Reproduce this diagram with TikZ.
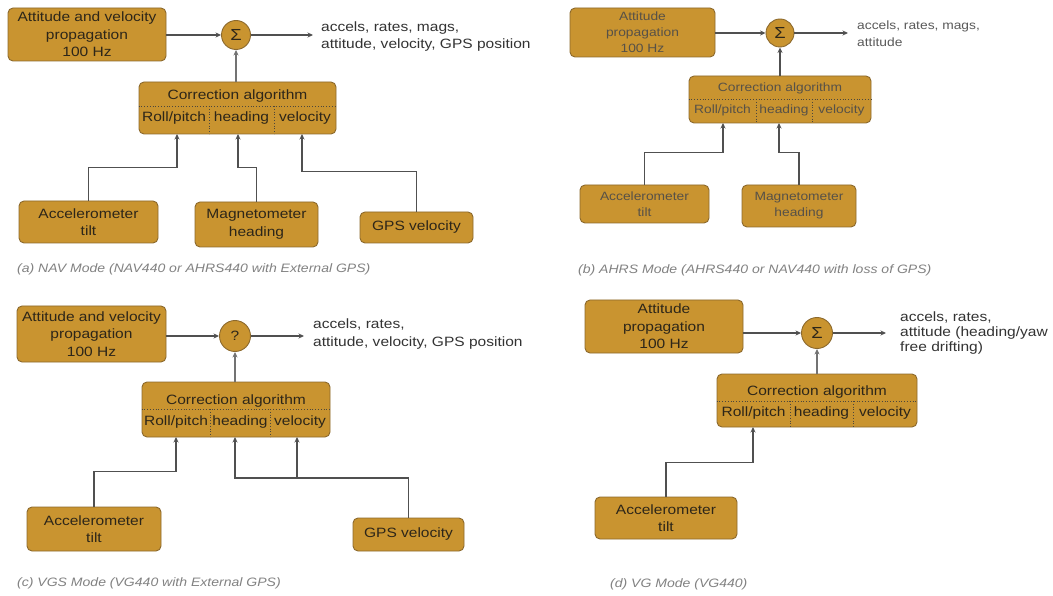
\documentclass[tikz,border=0pt]{standalone}
\usepackage{fontspec}
\setmainfont{Liberation Sans}[FakeStretch=1.15]
\usetikzlibrary{arrows.meta,calc}
\definecolor{gold}{RGB}{201,148,48}
\definecolor{goldedge}{RGB}{140,105,45}
\definecolor{ink}{RGB}{45,38,25}
\definecolor{wire}{RGB}{80,80,80}
\definecolor{wirelight}{RGB}{115,115,115}
\definecolor{capgray}{RGB}{130,130,130}
\tikzset{
  blk/.style={draw=goldedge, fill=gold, rounded corners=5pt, line width=0.9pt, text=ink,
    align=center, inner sep=0pt, font=\fontsize{13.5}{17.5}\selectfont},
  sumnode/.style={circle, draw=goldedge, fill=gold, line width=0.9pt, minimum size=29pt,
    inner sep=0pt, text=ink, font=\fontsize{16}{16}\selectfont},
  conn/.style={draw=wire, line width=1.8pt, -{Stealth[length=5.5pt,width=5pt]}},
  upconn/.style={draw=wirelight, line width=2.2pt, -{Stealth[length=5.5pt,width=5pt]}},
  outtxt/.style={anchor=west, align=left, text=black!80, inner sep=0pt},
  captxt/.style={anchor=west, inner sep=0pt, text=capgray, font=\fontsize{12.2}{14}\selectfont\itshape},
  lbl/.style={inner sep=0pt, text=ink, font=\fontsize{13.5}{16}\selectfont},
  lblb/.style={inner sep=0pt, text=ink!80, font=\fontsize{12}{15}\selectfont},
  bsmall/.style={font=\fontsize{12}{16}\selectfont, text=ink!80},
  sep/.style={draw=ink!85, dotted, line width=0.8pt},
}
\newcommand{\gbox}[7][]{%
  \node[blk, minimum width={(#5-#3)*1pt}, minimum height={(#6-#4)*1pt}, #1]
    (#2) at ({(#3+#5)/2},{(#4+#6)/2}) {#7};}
\begin{document}
\begin{tikzpicture}[x=1pt,y=-1pt]
\path[use as bounding box, fill=white] (0,0) rectangle (1053,596);

% ---------------- (a) NAV mode ----------------
\gbox{propA}{8}{8}{166}{61}{Attitude and velocity\\propagation\\100 Hz}
\node[sumnode] (sumA) at (236,35) {Σ};
\node[outtxt, font=\fontsize{13.5}{17}\selectfont] (outA) at (321,36.5) {accels, rates, mags,\\attitude, velocity, GPS position};
\draw[conn] (propA.east |- sumA.west) -- (sumA.west);
\draw[conn, shorten >=8pt] (sumA.east) -- (sumA.east -| outA.west);
\gbox{corrA}{139}{82}{336}{134}{}
\node[lbl] (corrAt) at (237.5,96) {Correction algorithm};
\draw[sep] (corrA.west |- 0,106) -- (corrA.east |- 0,106);
\draw[sep] (209,106) -- (209,134);
\draw[sep] (274,106) -- (274,134);
\node[lbl] (corrA1) at (174,118) {Roll/pitch};
\node[lbl] (corrA2) at (241.5,118) {heading};
\node[lbl] (corrA3) at (305,118) {velocity};
\draw[upconn] (sumA.south |- corrA.north) -- (sumA.south);
\coordinate (pA1) at (177,134);
\coordinate (pA2) at (238,134);
\coordinate (pA3) at (302,134);
\gbox{accA}{19}{201}{158}{243}{Accelerometer\\tilt}
\gbox{magA}{195}{202}{318}{247}{Magnetometer\\heading}
\gbox{gpsA}{360}{212}{473}{243}{GPS velocity}
\draw[conn] (accA.north) -- ++(0,-33) -| (pA1);
\draw[conn] (magA.north) -- ++(0,-34) -| (pA2);
\draw[conn] (gpsA.north) -- ++(0,-40) -| (pA3);
\node[captxt] (capA) at (17,269) {(a) NAV Mode (NAV440 or AHRS440 with External GPS)};

% ---------------- (b) AHRS mode ----------------
\gbox[bsmall]{propB}{570}{8}{715}{57}{Attitude\\propagation\\100 Hz}
\node[sumnode, minimum size=28pt] (sumB) at (780,33) {Σ};
\node[outtxt, text=black!65, font=\fontsize{12}{17}\selectfont] (outB) at (857,33.5) {accels, rates, mags,\\attitude};
\draw[conn] (propB.east |- sumB.west) -- (sumB.west);
\draw[conn, shorten >=9pt] (sumB.east) -- (sumB.east -| outB.west);
\gbox{corrB}{689}{76}{871}{123}{}
\node[lblb] (corrBt) at (780,88) {Correction algorithm};
\draw[sep] (corrB.west |- 0,99) -- (corrB.east |- 0,99);
\draw[sep] (756,99) -- (756,123);
\draw[sep] (812,99) -- (812,123);
\node[lblb] (corrB1) at (722.5,110.5) {Roll/pitch};
\node[lblb] (corrB2) at (784,110.5) {heading};
\node[lblb] (corrB3) at (841.5,110.5) {velocity};
\draw[conn] (sumB.south |- corrB.north) -- (sumB.south);
\coordinate (pB1) at (723,123);
\coordinate (pB2) at (779,123);
\gbox[bsmall]{accB}{580}{185}{709}{223}{Accelerometer\\tilt}
\gbox[bsmall]{magB}{742}{185}{856}{227}{Magnetometer\\heading}
\draw[conn] (accB.north) -- ++(0,-32) -| (pB1);
\draw[conn] (magB.north) -- ++(0,-32) -| (pB2);
\node[captxt] (capB) at (578,270) {(b) AHRS Mode (AHRS440 or NAV440 with loss of GPS)};

% ---------------- (c) VGS mode ----------------
\gbox{propC}{17}{306}{166}{362}{Attitude and velocity\\propagation\\100 Hz}
\node[sumnode, minimum size=31pt, font=\fontsize{13.5}{16}\selectfont] (sumC) at (235,336) {?};
\node[outtxt, font=\fontsize{13.5}{18}\selectfont] (outC) at (313,334) {accels, rates,\\attitude, velocity, GPS position};
\draw[conn] (propC.east |- sumC.west) -- (sumC.west);
\draw[conn, shorten >=9pt] (sumC.east) -- (sumC.east -| outC.west);
\gbox{corrC}{142}{382}{330}{437}{}
\node[lbl] (corrCt) at (236,401) {Correction algorithm};
\draw[sep] (corrC.west |- 0,409) -- (corrC.east |- 0,409);
\draw[sep] (210,409) -- (210,437);
\draw[sep] (270,409) -- (270,437);
\node[lbl] (corrC1) at (176,422) {Roll/pitch};
\node[lbl] (corrC2) at (240,422) {heading};
\node[lbl] (corrC3) at (300,422) {velocity};
\draw[upconn] (sumC.south |- corrC.north) -- (sumC.south);
\coordinate (pC1) at (176,437);
\coordinate (pC2) at (235,437);
\coordinate (pC3) at (297,437);
\gbox{accC}{27}{507}{161}{551}{Accelerometer\\tilt}
\gbox{gpsC}{353}{518}{464}{551}{GPS velocity}
\draw[conn] (accC.north) -- ++(0,-35) -| (pC1);
\coordinate (jC) at (297,478);
\draw[conn] (gpsC.north) |- (jC) -- (pC3);
\draw[conn] (jC) -| (pC2);
\node[captxt] (capC) at (17,583) {(c) VGS Mode (VG440 with External GPS)};

% ---------------- (d) VG mode ----------------
\gbox{propD}{585}{300}{743}{353}{Attitude\\propagation\\100 Hz}
\node[sumnode, minimum size=31pt] (sumD) at (817,333) {Σ};
\node[outtxt, font=\fontsize{13.5}{15}\selectfont] (outD) at (900,333) {accels, rates,\\attitude (heading/yaw\\free drifting)};
\draw[conn] (propD.east |- sumD.west) -- (sumD.west);
\draw[conn, shorten >=14pt] (sumD.east) -- (sumD.east -| outD.west);
\gbox{corrD}{717}{374}{917}{427}{}
\node[lbl] (corrDt) at (817,392) {Correction algorithm};
\draw[sep] (corrD.west |- 0,401) -- (corrD.east |- 0,401);
\draw[sep] (790,401) -- (790,427);
\draw[sep] (853,401) -- (853,427);
\node[lbl] (corrD1) at (753.5,413) {Roll/pitch};
\node[lbl] (corrD2) at (821.5,413) {heading};
\node[lbl] (corrD3) at (885,413) {velocity};
\draw[upconn] (sumD.south |- corrD.north) -- (sumD.south);
\coordinate (pD1) at (753,427);
\gbox{accD}{595}{497}{737}{539}{Accelerometer\\tilt}
\draw[conn] (accD.north) -- ++(0,-34) -| (pD1);
\node[captxt] (capD) at (610,584) {(d) VG Mode (VG440)};
\end{tikzpicture}
\end{document}
